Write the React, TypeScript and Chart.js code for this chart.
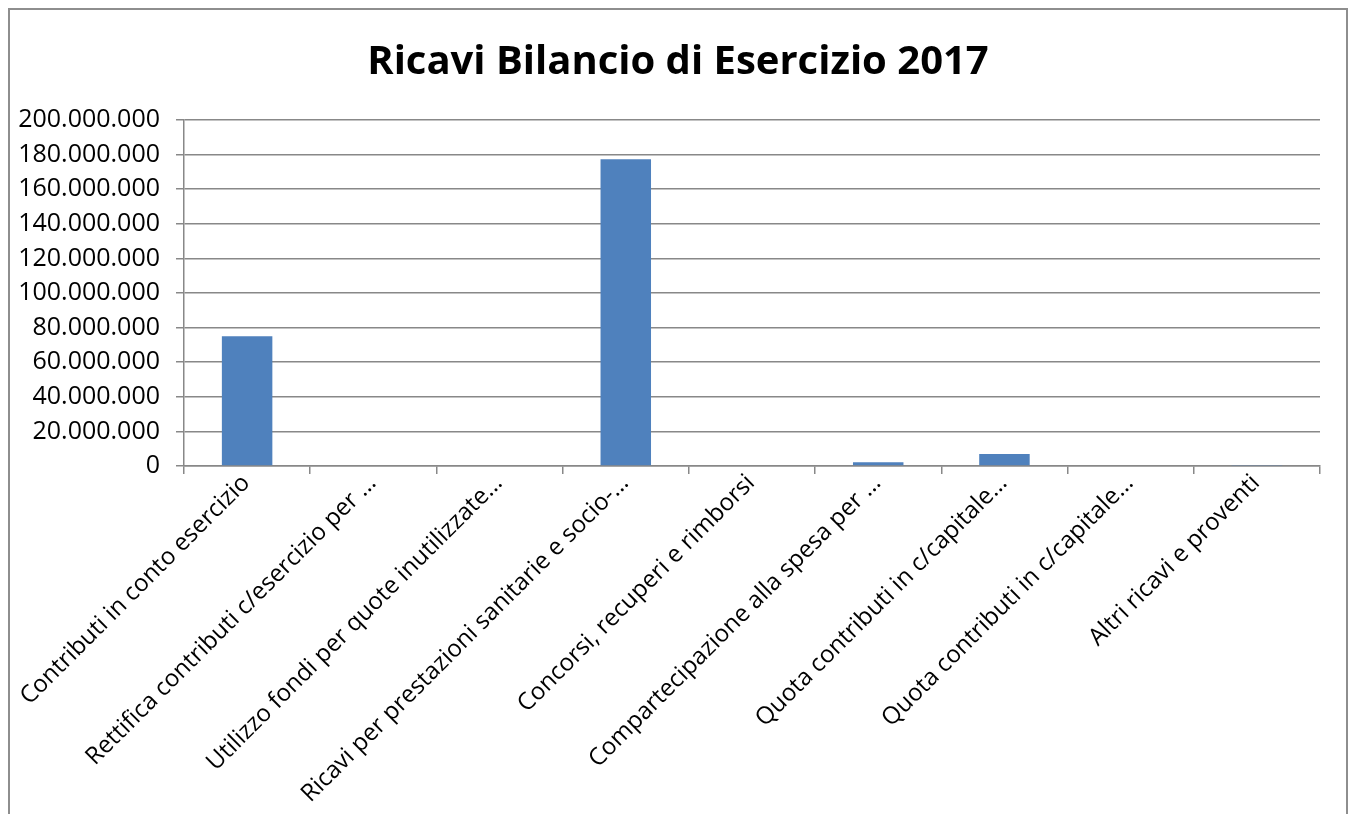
import React, { useEffect, useRef } from "react";
import { Chart, registerables } from "chart.js";

Chart.register(...registerables);

const titleText = "Ricavi Bilancio di Esercizio 2017";

const categories = [
  "Contributi in conto esercizio",
  "Rettifica contributi c/esercizio per …",
  "Utilizzo fondi per quote inutilizzate…",
  "Ricavi per prestazioni sanitarie e socio-…",
  "Concorsi, recuperi e rimborsi",
  "Compartecipazione alla spesa per …",
  "Quota contributi in c/capitale…",
  "Quota contributi in c/capitale…",
  "Altri ricavi e proventi",
];

const ricavi = [75000000, 0, 0, 177300000, 500000, 2200000, 7000000, 0, 300000];

const yMin = 0;
const yMax = 200000000;
const yStep = 20000000;

function formatIt(v: number): string {
  return String(Math.round(v)).replace(/\B(?=(\d{3})+(?!\d))/g, ".");
}

export default function App() {
  const canvasRef = useRef<HTMLCanvasElement | null>(null);

  useEffect(() => {
    if (!canvasRef.current) return;
    const gridColor = "#888888";
    const font = "'Open Sans', sans-serif";
    const chart = new Chart(canvasRef.current, {
      type: "bar",
      data: {
        labels: categories,
        datasets: [
          {
            label: "Ricavi",
            data: ricavi,
            backgroundColor: "#4f81bd",
            borderWidth: 0,
            categoryPercentage: 0.4,
            barPercentage: 1,
          },
        ],
      },
      options: {
        animation: false,
        responsive: true,
        maintainAspectRatio: false,
        layout: { padding: 0 },
        plugins: {
          legend: { display: false },
          tooltip: { enabled: false },
          title: {
            display: true,
            text: titleText,
            color: "#000",
            font: { family: font, size: 40, weight: "bold", lineHeight: 1.2 },
            padding: { top: 29, bottom: 33 },
          },
        },
        scales: {
          x: {
            afterFit: (scale: any) => {
              scale.height = 348;
              scale.paddingLeft = 0;
              scale.paddingRight = 26;
            },
            grid: {
              display: true,
              drawOnChartArea: false,
              drawTicks: true,
              tickLength: 8,
              offset: true,
              color: gridColor,
              lineWidth: 1.5,
            },
            border: { display: true, color: gridColor, width: 1.5 },
            ticks: {
              color: "#000",
              font: { family: font, size: 24 },
              minRotation: 45,
              maxRotation: 45,
              autoSkip: false,
              padding: -5,
              labelOffset: -1,
            },
          },
          y: {
            min: yMin,
            max: yMax,
            afterFit: (scale: any) => {
              scale.width = 174;
            },
            grid: {
              color: gridColor,
              lineWidth: 1.5,
              tickLength: 8,
              drawTicks: true,
            },
            border: { display: true, color: gridColor, width: 1.5 },
            ticks: {
              stepSize: yStep,
              color: "#000",
              font: { family: font, size: 25 },
              padding: 16,
              callback: (v: any) => formatIt(Number(v)),
            },
          },
        },
      },
    });
    return () => chart.destroy();
  }, []);

  return (
    <div
      style={{
        position: "fixed",
        left: 8,
        top: 8,
        width: 1340,
        height: 830,
        boxSizing: "border-box",
        border: "2px solid #8e8e8e",
        background: "#fff",
      }}
    >
      <div style={{ position: "absolute", left: 0, top: 0, width: 1336, height: 804 }}>
        <canvas ref={canvasRef} />
      </div>
    </div>
  );
}
